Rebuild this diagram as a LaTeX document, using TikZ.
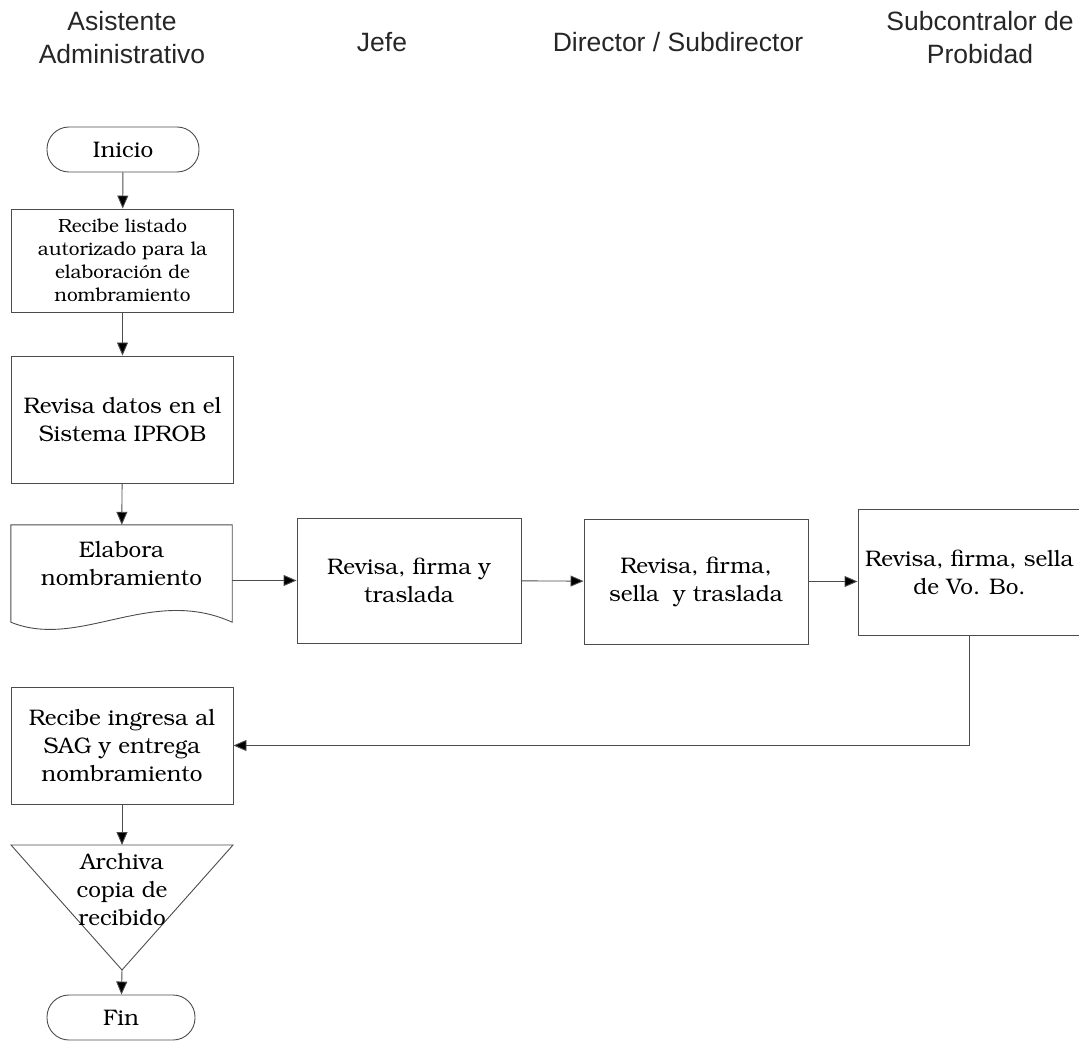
\documentclass[tikz,border=0pt]{standalone}
\usepackage{fontspec}
\setsansfont{Liberation Sans}
\usetikzlibrary{positioning,arrows.meta}
\newcommand\bkfont{\fontencoding{T1}\fontfamily{pbk}\selectfont}

\begin{document}
\begin{tikzpicture}[x=1pt,y=-1pt,
    line/.style={draw=black!70, line width=0.9pt},
    flow/.style={line, -{Triangle[length=13pt,width=11pt,fill=black]}},
    lane/.style={font=\sffamily\fontsize{26.5}{33}\selectfont, align=center, text=black!85},
    proc/.style={line, rectangle, minimum width=222pt, align=center, inner sep=2pt,
                 font=\bkfont\fontsize{22.5}{28}\selectfont},
    small/.style={proc, font=\bkfont\fontsize{19}{23}\selectfont},
    term/.style={line, rectangle, rounded corners=22pt, minimum width=152pt,
                 minimum height=45pt, font=\bkfont\fontsize{22.5}{28}\selectfont},
    txt/.style={align=center, font=\bkfont\fontsize{22.5}{28}\selectfont}]

    \useasboundingbox (0,0) rectangle (1079,1048);

    % Lane headers
    \node[lane] (hasist) at (122,38) {Asistente\\Administrativo};
    \node[lane] (hjefe) at (382,42) {Jefe};
    \node[lane] (hdir) at (678,42) {Director / Subdirector};
    \node[lane] (hsub) at (980,38) {Subcontralor de\\Probidad};

    % Left column
    \node[term] (inicio) at (123,149.5) {Inicio};
    \node[small, minimum height=103pt] (listado) at (122.5,260.5)
        {Recibe listado\\autorizado para la\\elaboración de\\nombramiento};
    \node[proc, minimum height=127pt] (datos) at (122.5,419.5)
        {Revisa datos en el\\Sistema IPROB};

    % Document shape with wavy bottom
    \node[txt, minimum width=221pt, minimum height=97pt] (elabora) at (121.5,573.5) {};
    \node[txt] at (121.5,564) {Elabora\\nombramiento};
    \draw[line] (elabora.south west) -- (elabora.north west) -- (elabora.north east)
        -- (elabora.south east) .. controls +(-82,-37) and +(69,28) .. (elabora.south west);

    % Signing chain
    \node[proc, minimum width=224pt, minimum height=125pt] (jefe) at (409,580.5)
        {Revisa, firma y\\traslada};
    \node[proc, minimum width=224pt, minimum height=125pt] (director) at (696,581.5)
        {Revisa, firma,\\sella~ y traslada};
    \node[proc, minimum width=223pt, minimum height=126pt] (vobo) at (969.5,572)
        {Revisa, firma, sella\\de Vo. Bo.};

    \node[proc, minimum height=117pt] (entrega) at (122,745.5)
        {Recibe ingresa al\\SAG y entrega\\nombramiento};

    % Archive triangle
    \coordinate (tl) at (11,845);
    \coordinate (tt) at (122,845);
    \coordinate (tr) at (233,845);
    \coordinate (tb) at (122,970);
    \draw[line] (tl) -- (tr) -- (tb) -- cycle;
    \node[txt] (archiva) at (122,890) {Archiva\\copia de\\recibido};

    \node[term, minimum width=148pt] (fin) at (121,1017.5) {Fin};

    % Connectors
    \draw[flow] (inicio) -- (listado);
    \draw[flow] (listado) -- (datos);
    \draw[flow] (datos) -- (elabora);
    \draw[flow] (elabora.east |- jefe) -- (jefe);
    \draw[flow] (jefe) -- (director);
    \draw[flow] (director) -- (vobo.west |- director);
    \draw[flow] (vobo.south) |- (entrega.east);
    \draw[flow] (entrega) -- (tt);
    \draw[flow] (tb) -- (fin);
\end{tikzpicture}
\end{document}
